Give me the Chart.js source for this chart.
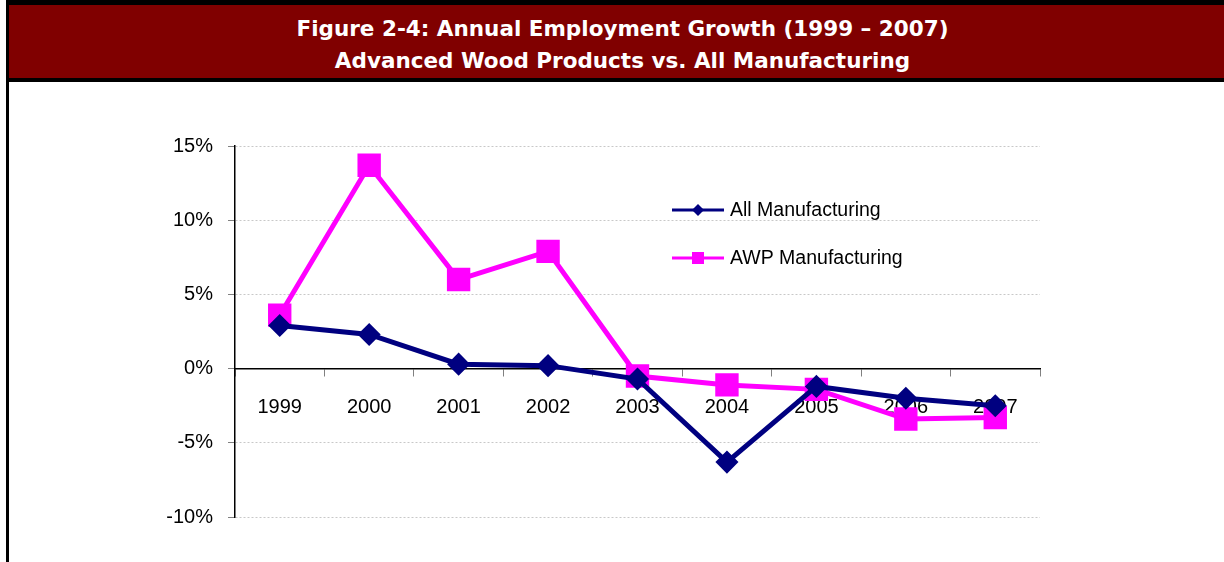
<!DOCTYPE html>
<html>
<head>
<meta charset="utf-8">
<script src="https://cdn.jsdelivr.net/npm/chart.js@4"></script>
<style>
  html, body { margin: 0; padding: 0; background: #fff; }
  #frame { position: absolute; left: 6px; top: 0; width: 1230px; height: 562px;
           border-left: 3px solid #000; border-top: 5px solid #000; box-sizing: border-box; }
  #banner { position: absolute; left: 0; top: 0; right: 0; height: 65px; background: #800000;
            border-bottom: 4px solid #000; color: #fff; text-align: center;
            font-family: "DejaVu Sans", sans-serif; font-weight: bold; font-size: 21.5px; line-height: 32px;
            padding-top: 8px; box-sizing: content-box; }
  #wrap { position: absolute; left: 9px; top: 82px; width: 1215px; height: 480px; }
</style>
</head>
<body>
<div id="frame">
  <div id="banner">Figure 2-4: Annual Employment Growth (1999 – 2007)<br>Advanced Wood Products vs. All Manufacturing</div>
</div>
<div id="wrap"><canvas id="chart"></canvas></div>
<script>
const years = ['1999','2000','2001','2002','2003','2004','2005','2006','2007'];
const allMfg = [2.9, 2.3, 0.3, 0.2, -0.7, -6.3, -1.2, -2.0, -2.5];
const awpMfg = [3.6, 13.7, 6.0, 7.9, -0.5, -1.1, -1.4, -3.4, -3.3];
const seriesNames = ['All Manufacturing', 'AWP Manufacturing'];
const yTicks = [-10, -5, 0, 5, 10, 15];

const FONT = '"Liberation Sans", Arial, sans-serif';

// legend drawn inside the plot, like the Excel original
const insideLegend = {
  id: 'insideLegend',
  afterDraw(chart){
    const ctx = chart.ctx, a = chart.chartArea;
    chart.data.datasets.forEach((ds, i) => {
      const x = a.left + 437, y = a.top + 64 + i * 48;
      ctx.save();
      ctx.strokeStyle = ds.borderColor;
      ctx.lineWidth = 3;
      ctx.beginPath(); ctx.moveTo(x, y); ctx.lineTo(x + 52, y); ctx.stroke();
      ctx.fillStyle = ds.borderColor;
      if (ds.pointStyle === 'rect') ctx.fillRect(x + 20, y - 6, 12, 12);
      else { ctx.beginPath(); ctx.moveTo(x+26, y-6); ctx.lineTo(x+32, y); ctx.lineTo(x+26, y+6); ctx.lineTo(x+20, y); ctx.closePath(); ctx.fill(); }
      ctx.fillStyle = '#000';
      ctx.font = '19.5px ' + FONT;
      ctx.textBaseline = 'middle';
      ctx.fillText(ds.label, x + 58, y + 1);
      ctx.restore();
    });
  }
};

new Chart(document.getElementById('chart'), {
  type: 'line',
  data: {
    labels: years,
    datasets: [
      { label: seriesNames[0], data: allMfg, borderColor: '#000080', backgroundColor: '#000080',
        borderWidth: 5, pointStyle: 'rectRot', pointRadius: 8, pointHoverRadius: 8, tension: 0 },
      { label: seriesNames[1], data: awpMfg, borderColor: '#ff00ff', backgroundColor: '#ff00ff',
        borderWidth: 5, pointStyle: 'rect', pointRadius: 13, pointHoverRadius: 13, tension: 0 }
    ]
  },
  options: {
    responsive: true,
    maintainAspectRatio: false,
    animation: false,
    layout: { padding: { left: 0, right: 184, top: 64, bottom: 45 } },
    plugins: { legend: { display: false }, tooltip: { enabled: false } },
    scales: {
      x: {
        position: { y: 0 },
        offset: true,
        grid: { drawOnChartArea: false, offset: true, tickLength: 7, tickColor: '#808080' },
        border: { color: '#000', width: 1.5 },
        ticks: { color: '#000', padding: 20, font: { family: FONT, size: 20 } }
      },
      y: {
        min: -10, max: 15,
        afterFit(scale){ scale.width = 226; },
        afterBuildTicks(scale){ scale.ticks = yTicks.map(v => ({ value: v })); },
        grid: { color: '#c8c8c8', tickBorderDash: [], tickColor: '#808080', tickLength: 7 },
        border: { color: '#000', width: 1.5, dash: [2, 2] },
        ticks: { color: '#000', padding: 15, font: { family: FONT, size: 20 }, callback: v => v + '%' }
      }
    }
  },
  plugins: [insideLegend]
});
</script>
</body>
</html>
